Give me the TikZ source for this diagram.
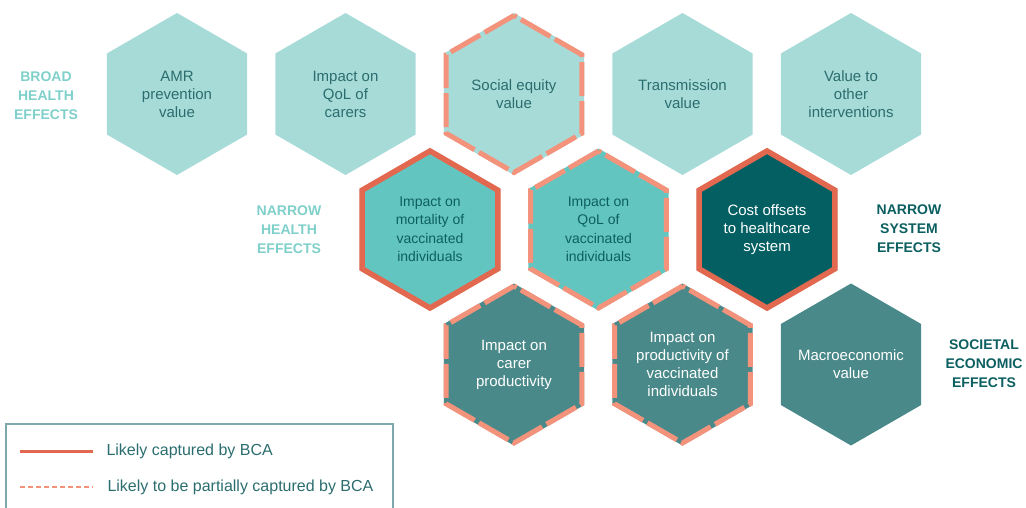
\documentclass[tikz,border=0pt]{standalone}
\usepackage{fontspec}
\setmainfont{Liberation Sans}
\usetikzlibrary{shapes.geometric}

\definecolor{lightteal}{HTML}{A7DBD8}
\definecolor{midteal}{HTML}{63C5BF}
\definecolor{darkteal}{HTML}{035F62}
\definecolor{greyteal}{HTML}{4A8989}
\definecolor{rimred}{HTML}{E2694F}
\definecolor{rimsalmon}{HTML}{F4937B}
\definecolor{hextext}{HTML}{2B6D6E}
\definecolor{lbllight}{HTML}{7FD0CA}
\definecolor{lbldark}{HTML}{0C5F61}
\definecolor{boxline}{HTML}{7FA8AC}

\tikzset{
  hex/.style={regular polygon, regular polygon sides=6, shape border rotate=30,
    minimum size=162pt, inner sep=-12pt, outer sep=0pt, align=center,
    font=\fontsize{15}{18}\selectfont, text=hextext},
  narrowhex/.style={hex, fill=midteal, text=lbldark, font=\fontsize{14}{18.5}\selectfont},
  hexrim/.style={regular polygon, regular polygon sides=6, shape border rotate=30,
    minimum size=157pt, inner sep=0pt, line width=5pt, line join=miter},
  solidrim/.style={hexrim, draw=rimred, line width=5.5pt},
  dashrim/.style={hexrim, draw=rimsalmon, dash pattern=on 34pt off 5pt},
  grouplbl/.style={align=center, font=\bfseries\fontsize{14}{19}\selectfont},
  legendtxt/.style={anchor=west, text=hextext, font=\fontsize{16}{19}\selectfont}
}

\begin{document}
\begin{tikzpicture}[x=1pt,y=-1pt]
\useasboundingbox (0,0) rectangle (1026,508);
% broad health effects
\node[hex, fill=lightteal] (amr) at (177,94) {AMR\\prevention\\value};
\node[hex, fill=lightteal] (qolcarers) at (345.5,94) {Impact on\\QoL of\\carers};
\node[hex, fill=lightteal] (equity) at (514,94) {Social equity\\value};
\node[dashrim] (equity-rim) at (equity) {};
\node[hex, fill=lightteal] (transmission) at (682.5,94) {Transmission\\value};
\node[hex, fill=lightteal] (othervalue) at (851,94) {Value to\\other\\interventions};
% narrow health and system effects
\node[narrowhex] (mortality) at (430,229.5) {Impact on\\mortality of\\vaccinated\\individuals};
\node[solidrim] (mortality-rim) at (mortality) {};
\node[narrowhex] (qolvacc) at (598.5,229.5) {Impact on\\QoL of\\vaccinated\\individuals};
\node[dashrim] (qolvacc-rim) at (qolvacc) {};
\node[hex, fill=darkteal, text=white] (offsets) at (767,229.5) {Cost offsets\\to healthcare\\system};
\node[solidrim] (offsets-rim) at (offsets) {};
% societal economic effects
\node[hex, fill=greyteal, text=white] (carerprod) at (514,364.5) {Impact on\\carer\\productivity};
\node[dashrim] (carerprod-rim) at (carerprod) {};
\node[hex, fill=greyteal, text=white] (vaccprod) at (682.5,364.5) {Impact on\\productivity of\\vaccinated\\individuals};
\node[dashrim] (vaccprod-rim) at (vaccprod) {};
\node[hex, fill=greyteal, text=white] (macro) at (851,364.5) {Macroeconomic\\value};
% group labels
\node[grouplbl, text=lbllight] (broadlbl) at (46,96) {BROAD\\HEALTH\\EFFECTS};
\node[grouplbl, text=lbllight] (narrowhlbl) at (289,230) {NARROW\\HEALTH\\EFFECTS};
\node[grouplbl, text=lbldark] (narrowslbl) at (909,229) {NARROW\\SYSTEM\\EFFECTS};
\node[grouplbl, text=lbldark] (societallbl) at (984,364) {SOCIETAL\\ECONOMIC\\EFFECTS};
% legend
\draw[boxline, line width=1.2pt] (6,508) -- (6,424) -- (393,424) -- (393,508);
\draw[rimred, line width=3pt] (20,451) -- (93,451);
\node[legendtxt] (capturedtxt) at (103,451) {Likely captured by BCA};
\draw[rimsalmon, line width=2.5pt, dash pattern=on 5pt off 3pt] (20,487) -- (93,487);
\node[legendtxt] (partialtxt) at (104,487) {Likely to be partially captured by BCA};
\end{tikzpicture}
\end{document}
